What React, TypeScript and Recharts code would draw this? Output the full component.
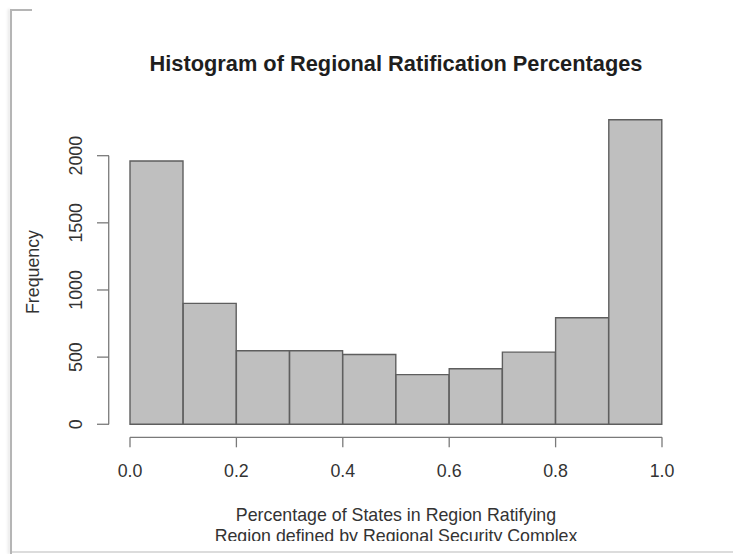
import React from 'react';
import { ComposedChart, Bar, XAxis, YAxis, ReferenceLine } from 'recharts';

// histogram bins (left edges) and counts
const binStarts = [0, 0.1, 0.2, 0.3, 0.4, 0.5, 0.6, 0.7, 0.8, 0.9];
const frequencies = [1960, 900, 548, 548, 520, 370, 413, 537, 793, 2268];
const xTicks = [0, 0.2, 0.4, 0.6, 0.8, 1];
const yTicks = [0, 500, 1000, 1500, 2000];

const data = binStarts.map((b, i) => ({ bin: b.toFixed(1), start: b, count: frequencies[i] }));

const FONT = '"Liberation Sans", Arial, Helvetica, sans-serif';
const AXIS_COLOR = '#7a7a7a';
const TEXT_COLOR = '#333';
const LABEL_SIZE = 17.8;
const Y_AXIS_X = 109; // R draws its y axis a little left of the bars
const Y_AXIS_POS = -0.04; // same spot in x data units

const XTick = ({ x, y, payload }: any) => (
    <text x={x} y={y + 30} textAnchor="middle" fontFamily={FONT} fontSize={LABEL_SIZE} fill={TEXT_COLOR}>
        {Number(payload.value).toFixed(1)}
    </text>
);

const YTick = ({ y, payload }: any) => {
    const tx = Y_AXIS_X - 32.5;
    return (
        <g>
            <line x1={Y_AXIS_X - 12} x2={Y_AXIS_X} y1={y} y2={y} stroke={AXIS_COLOR} strokeWidth={1.3} />
            <text
                x={tx}
                y={y}
                transform={`rotate(-90, ${tx}, ${y})`}
                textAnchor="middle"
                dominantBaseline="central"
                fontFamily={FONT}
                fontSize={LABEL_SIZE}
                fill={TEXT_COLOR}
            >
                {payload.value}
            </text>
        </g>
    );
};

const YLabel = () => (
    <text
        x={33}
        y={272}
        transform="rotate(-90, 33, 272)"
        textAnchor="middle"
        dominantBaseline="central"
        fontFamily={FONT}
        fontSize={LABEL_SIZE}
        fill={TEXT_COLOR}
    >
        Frequency
    </text>
);

export default function App() {
    return (
        <div style={{ position: 'absolute', left: 0, top: 0, width: 733, height: 554, background: '#fff', overflow: 'hidden' }}>
            {/* frame lines from the screenshot */}
            <div style={{ position: 'absolute', left: 10, top: 9, width: 2, height: 545, background: '#b5b5b5', boxShadow: '-2px 0 3px rgba(0,0,0,0.12)' }} />
            <div style={{ position: 'absolute', left: 10, top: 9, width: 22, height: 1.5, background: '#b5b5b5' }} />
            <div style={{ position: 'absolute', left: 12, top: 551, width: 721, height: 2, background: '#dcdcdc' }} />

            <div
                style={{
                    position: 'absolute',
                    left: 0,
                    top: 51.1,
                    width: 792,
                    textAlign: 'center',
                    fontFamily: FONT,
                    fontWeight: 'bold',
                    fontSize: 21.8,
                    lineHeight: '26px',
                    color: '#1e1e1e',
                }}
            >
                Histogram of Regional Ratification Percentages
            </div>

            <ComposedChart
                width={733}
                height={554}
                data={data}
                barCategoryGap={0}
                margin={{ top: 115.4, right: 71, bottom: 66.7, left: 0 }}
            >
                <XAxis
                    xAxisId="edges"
                    dataKey="start"
                    type="number"
                    domain={[0, 1]}
                    ticks={xTicks}
                    interval={0}
                    allowDataOverflow
                    height={50}
                    axisLine={{ stroke: AXIS_COLOR, strokeWidth: 1.3 }}
                    tickLine={{ stroke: AXIS_COLOR, strokeWidth: 1.3 }}
                    tickSize={10}
                    tickMargin={0}
                    tick={<XTick />}
                />
                <XAxis xAxisId="bins" dataKey="bin" type="category" hide height={0} />
                <YAxis
                    type="number"
                    domain={[-97, 2300]}
                    ticks={yTicks}
                    interval={0}
                    allowDataOverflow
                    width={130}
                    axisLine={false}
                    tickLine={false}
                    tickSize={0}
                    tickMargin={0}
                    tick={<YTick />}
                    label={{ content: <YLabel /> }}
                />
                <ReferenceLine
                    xAxisId="edges"
                    segment={[{ x: Y_AXIS_POS, y: yTicks[0] }, { x: Y_AXIS_POS, y: yTicks[yTicks.length - 1] }]}
                    ifOverflow="visible"
                    stroke={AXIS_COLOR}
                    strokeWidth={1.3}
                />
                <Bar
                    xAxisId="bins"
                    dataKey="count"
                    fill="#bfbfbf"
                    stroke="#5e5e5e"
                    strokeWidth={1.4}
                    isAnimationActive={false}
                />
            </ComposedChart>

            <div
                style={{
                    position: 'absolute',
                    left: 0,
                    top: 505,
                    width: 792,
                    height: 35.5,
                    overflow: 'hidden',
                    textAlign: 'center',
                    fontFamily: FONT,
                    fontSize: LABEL_SIZE,
                    lineHeight: '21px',
                    color: TEXT_COLOR,
                }}
            >
                <div>Percentage of States in Region Ratifying</div>
                <div>Region defined by Regional Security Complex</div>
            </div>
        </div>
    );
}
